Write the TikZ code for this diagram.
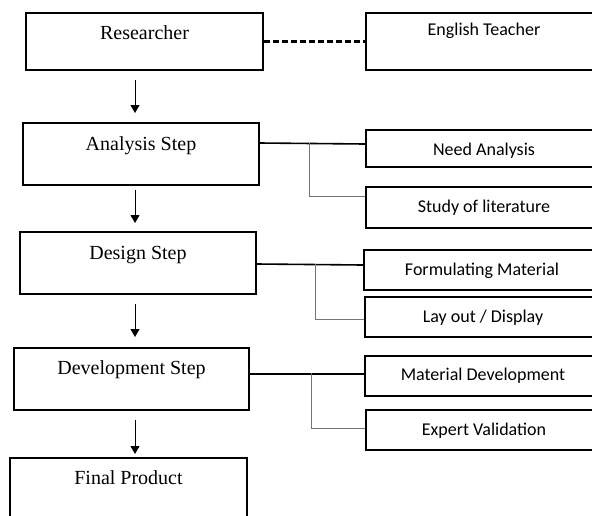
\documentclass[tikz,border=0pt]{standalone}
\usepackage{fontspec}
\setmainfont{Liberation Serif}
\newfontfamily\calibri{Carlito}
\usetikzlibrary{arrows.meta}
\begin{document}
\begin{tikzpicture}[x=1pt,y=-1pt,
    mainbox/.style={draw,line width=2pt,inner sep=0pt,anchor=north west,
      minimum width=236pt,text height=26pt,text depth=35pt,
      font=\fontsize{20}{24}\selectfont},
    subbox/.style={draw,line width=2pt,inner sep=0pt,anchor=north west,
      minimum width=236pt,text height=25pt,text depth=15pt,
      font=\calibri\fontsize{18}{22}\selectfont},
    flow/.style={-{Triangle[length=8pt,width=9pt]},line width=1pt},
    link/.style={line width=1.6pt},
    branch/.style={line width=1pt,black!55}]
  \useasboundingbox (0,0) rectangle (592,515);
  \clip (0,0) rectangle (592,515);

  % steps on the left
  \node[mainbox,minimum width=237pt,text depth=31pt] (researcher) at (25,12) {Researcher};
  \node[mainbox,text height=27pt] (analysis) at (22,122) {Analysis Step};
  \node[mainbox,text height=27pt] (design) at (19,231) {Design Step};
  \node[mainbox,minimum width=235pt,text depth=36pt] (develop) at (13,347) {Development Step};
  \node[mainbox,minimum width=237pt,text depth=45pt] (final) at (9,457) {Final Product};

  % boxes on the right
  \node[subbox,text height=22pt,text depth=35pt] (teacher) at (365,12) {English Teacher};
  \node[subbox,text depth=12pt] (need) at (365,129) {Need Analysis};
  \node[subbox,text depth=16pt] (study) at (365,186) {Study of literature};
  \node[subbox] (formulate) at (363,249) {Formulating Material};
  \node[subbox] (layout) at (364,296) {Lay out / Display};
  \node[subbox,text height=24pt,text depth=16pt] (material) at (364,355) {Material Development};
  \node[subbox] (expert) at (365,409) {Expert Validation};

  \draw[line width=2.5pt,dash pattern=on 6pt off 3pt] (researcher.east) -- (teacher.west);

  \coordinate (spine) at (135,0);
  \draw[flow,shorten <=9pt,shorten >=9pt] (researcher.south -| spine) -- (analysis.north -| spine);
  \draw[flow,shorten <=4pt,shorten >=8pt] (analysis.south -| spine) -- (design.north -| spine);
  \draw[flow,shorten <=9pt,shorten >=10pt] (design.south -| spine) -- (develop.north -| spine);
  \draw[flow,shorten <=9pt,shorten >=3pt] (develop.south -| spine) -- (final.north -| spine);

  % links to the right boxes
  \draw[link] ([yshift=11pt]analysis.east) -- ([yshift=4.5pt]need.west);
  \coordinate (ajoin) at (309,142.5);
  \draw[branch] (ajoin) |- ([yshift=11.5pt]study.west);

  \draw[link] ([yshift=-1pt]design.east) -- ([yshift=5pt]formulate.west);
  \coordinate (djoin) at (315,263.5);
  \draw[branch] (djoin) |- ([yshift=-2pt]layout.west);

  \draw[link] ([yshift=5pt]develop.east) -- ([yshift=2pt]material.west);
  \coordinate (vjoin) at (311,373);
  \draw[branch] (vjoin) |- ([yshift=2pt]expert.west);
\end{tikzpicture}
\end{document}
